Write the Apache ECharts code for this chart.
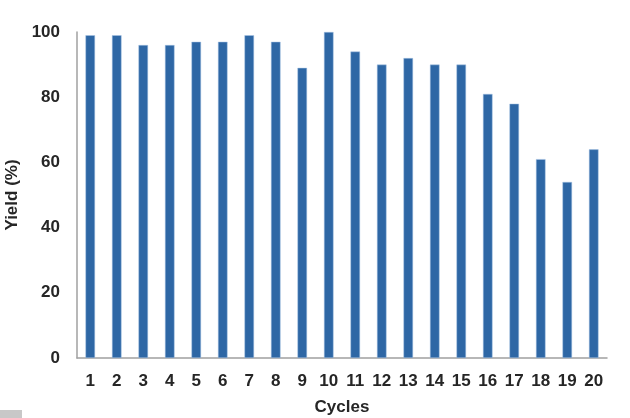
<!DOCTYPE html>
<html>
<head>
<meta charset="utf-8">
<script src="https://cdn.jsdelivr.net/npm/echarts@6/dist/echarts.min.js"></script>
<style>html,body{margin:0;padding:0;background:#fff}#c{width:630px;height:418px}</style>
</head>
<body>
<div id="c"></div>
<script>
var cycles = ['1','2','3','4','5','6','7','8','9','10','11','12','13','14','15','16','17','18','19','20'];
var yields = [99,99,96,96,97,97,99,97,89,100,94,90,92,90,90,81,78,61,54,64];
var yTicks = [0,20,40,60,80,100];

var chart = echarts.init(document.getElementById('c'), null, {renderer:'canvas'});
var font = 'Liberation Sans, Arial, sans-serif';
chart.setOption({
  animation:false,
  grid:{left:77,right:23,top:32,bottom:60,containLabel:false,outerBoundsMode:'none'},
  xAxis:{
    type:'category', data:cycles,
    name:'Cycles', nameLocation:'middle', nameGap:41,
    nameTextStyle:{fontFamily:font,fontWeight:'bold',fontSize:17,color:'#262626'},
    axisLine:{lineStyle:{color:'#a0a0a0',width:1.5}},
    axisTick:{show:false},
    axisLabel:{fontFamily:font,fontWeight:'bold',fontSize:17,color:'#262626',margin:15,interval:0}
  },
  yAxis:{
    type:'value', min:yTicks[0], max:yTicks[yTicks.length-1], interval:20,
    name:'Yield (%)', nameLocation:'middle', nameGap:50, nameRotate:90,
    nameTextStyle:{fontFamily:font,fontWeight:'bold',fontSize:17,color:'#262626'},
    axisLine:{show:true,lineStyle:{color:'#a0a0a0',width:1.5}},
    axisTick:{show:false},
    splitLine:{show:false},
    axisLabel:{fontFamily:font,fontWeight:'bold',fontSize:17,color:'#262626',margin:17}
  },
  series:[{
    type:'bar', data:yields, barWidth:'36%',
    itemStyle:{color:'#2e67a5',borderColor:'#a9c4e4',borderWidth:0.5}
  }],
  graphic:[{type:'rect',left:0,top:410,shape:{width:22,height:8},style:{fill:'#c8c8c8'}}]
});
</script>
</body>
</html>
